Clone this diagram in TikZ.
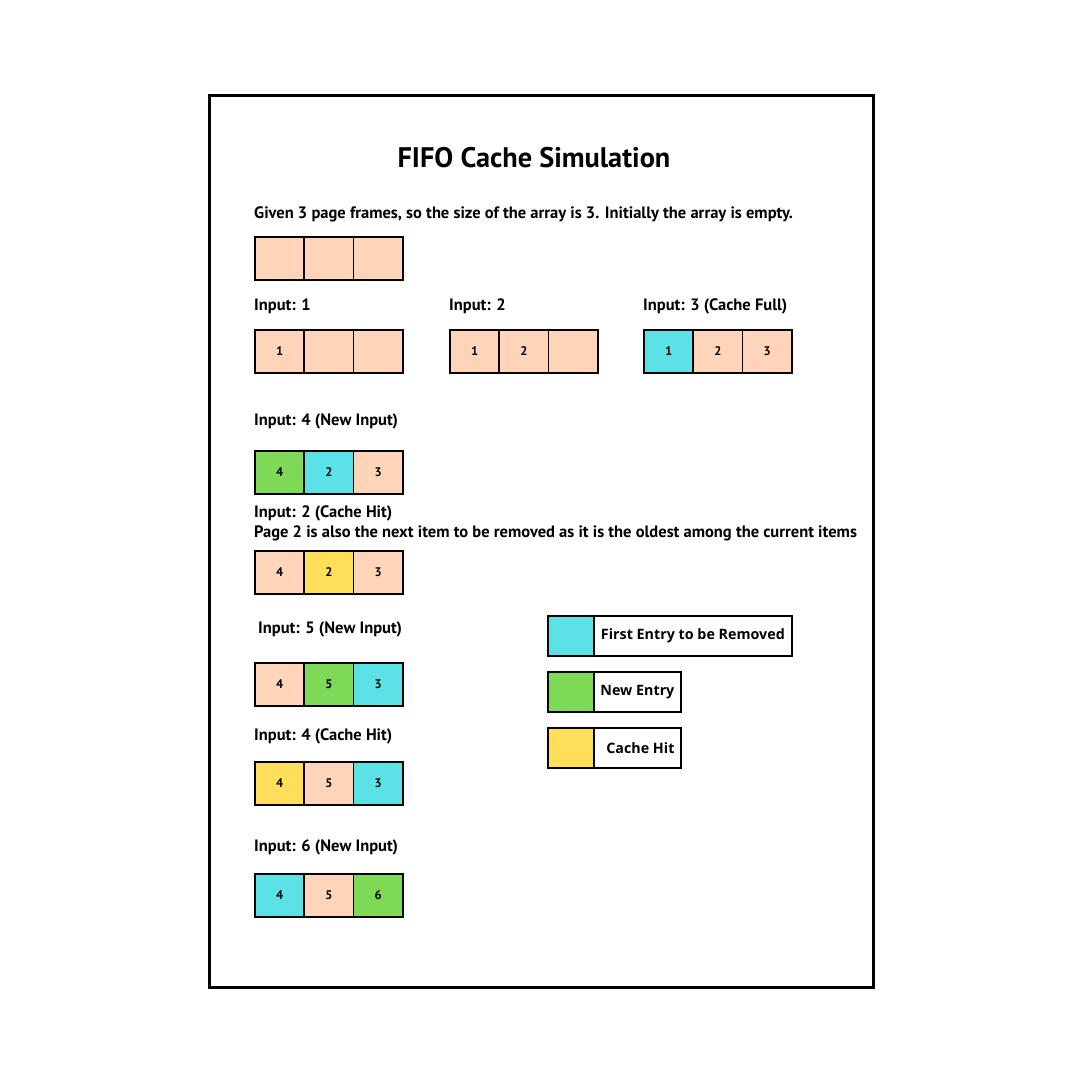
\documentclass[tikz,border=0pt]{standalone}
\usepackage{fontspec}
\setmainfont{PT Sans}
\newfontfamily\legfont{Open Sans}
\definecolor{peach}{HTML}{FFD4B8}
\definecolor{cyanc}{HTML}{5CE1E6}
\definecolor{greenc}{HTML}{7ED957}
\definecolor{yellowc}{HTML}{FFDE59}
\tikzset{
  cell/.style={draw, line width=1.8pt, minimum width=49.3pt, minimum height=43pt, anchor=north west, inner sep=0pt, font=\bfseries\fontsize{12.5}{14}\selectfont},
  lbl/.style={anchor=base west, inner sep=0pt, font=\bfseries\fontsize{16.5}{19}\selectfont},
  legc/.style={draw, line width=1.8pt, minimum width=46pt, minimum height=40pt, anchor=north west, inner sep=0pt},
  legt/.style={draw, line width=1.8pt, minimum height=40pt, anchor=north west, inner sep=0pt, font=\legfont\bfseries\fontsize{14.3}{17}\selectfont},
}
\newcommand{\cellrow}[4]{%
  \foreach \f/\t [count=\i] in {#4} {
    \node[cell, fill=\f] (#1-\i) at ({#2+(\i-1)*49.33}, #3) {\t};
  }%
}
\begin{document}
\begin{tikzpicture}[x=1pt,y=-1pt]
\useasboundingbox[fill=white] (0,0) rectangle (1080,1080);
\node[draw, line width=3pt, minimum width=664pt, minimum height=892pt, anchor=north west, inner sep=0pt] (frame) at (208,94) {};
\node[anchor=base, inner sep=0pt, font=\bfseries\fontsize{28.3}{33}\selectfont] (title) at (534,167) {FIFO Cache Simulation};
\node[lbl] (intro) at (254,218) {Given 3 page frames, so the size of the array is 3. Initially the array is empty.};
\cellrow{arr0}{254}{236}{peach/,peach/,peach/}
\node[lbl] (l1) at (254,310) {Input: 1};
\cellrow{arr1}{254}{329}{peach/1,peach/,peach/}
\node[lbl] (l2) at (449,310) {Input: 2};
\cellrow{arr2}{449}{329}{peach/1,peach/2,peach/}
\node[lbl] (l3) at (643,310) {Input: 3 (Cache Full)};
\cellrow{arr3}{643}{329}{cyanc/1,peach/2,peach/3}
\node[lbl] (l4) at (254,425) {Input: 4 (New Input)};
\cellrow{arr4}{254}{450}{greenc/4,cyanc/2,peach/3}
\node[lbl] (l5) at (254,517) {Input: 2 (Cache Hit)};
\node[lbl] (l5b) at (254,537) {Page 2 is also the next item to be removed as it is the oldest among the current items};
\cellrow{arr5}{254}{550}{peach/4,yellowc/2,peach/3}
\node[lbl] (l6) at (258,633) {Input: 5 (New Input)};
\cellrow{arr6}{254}{662}{peach/4,greenc/5,cyanc/3}
\node[lbl] (l7) at (254,740) {Input: 4 (Cache Hit)};
\cellrow{arr7}{254}{761}{yellowc/4,peach/5,cyanc/3}
\node[lbl] (l8) at (254,851) {Input: 6 (New Input)};
\cellrow{arr8}{254}{873}{cyanc/4,peach/5,greenc/6}
% legend
\node[legc, fill=cyanc] (k1) at (547,615) {};
\node[legt, minimum width=198pt] (t1) at (593,615) {First Entry to be Removed};
\node[legc, fill=greenc] (k2) at (547,671) {};
\node[legt, minimum width=87pt] (t2) at (593,671) {New Entry};
\node[legc, fill=yellowc] (k3) at (547,727) {};
\node[legt, minimum width=87pt] (t3) at (593,727) {\hspace*{6pt}Cache Hit};
\end{tikzpicture}
\end{document}
